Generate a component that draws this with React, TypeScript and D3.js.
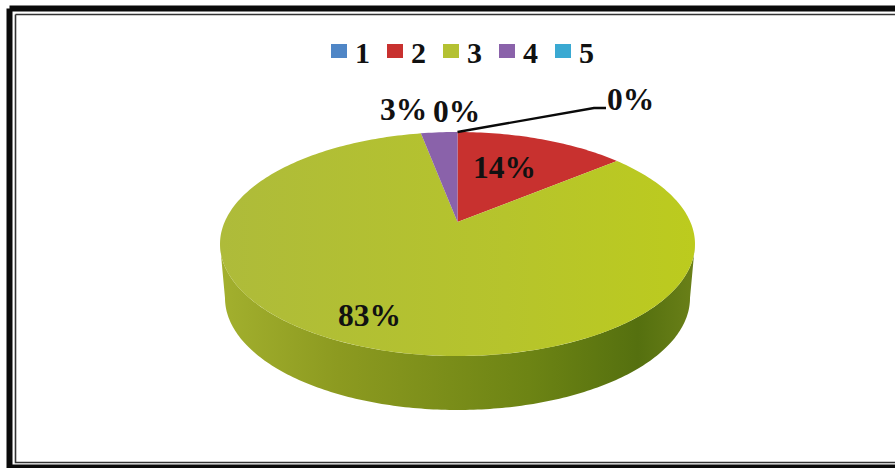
import React from "react";
import * as d3 from "d3";

const categories = ["1", "2", "3", "4", "5"];
const values = [0, 14, 83, 3, 0];
const labels = ["0%", "14%", "83%", "3%", "0%"];
const colors = ["#4f86c6", "#c8312f", "#b4c132", "#8a62aa", "#3aa9d2"];

const W = 895, H = 468;
const cx = 457.5, cy = 244, rx = 237.5, ry = 112, depth = 54;
const persp = -0.196; // perspective tilt: moves the pie's apex above the ellipse centre
const font = "'Liberation Serif', 'Times New Roman', serif";

// Project a pie angle (0 = up, clockwise) and radius fraction on the tilted disc
function project(angle: number, r = 1): [number, number] {
  const X = r * Math.sin(angle), Y = -r * Math.cos(angle);
  const w = 1 + persp * Y;
  return [cx + (rx * X * Math.sqrt(1 - persp * persp)) / w, cy + (ry * (Y + persp)) / w];
}

const pieGen = d3.pie<number>().sort(null).value((d) => d);
const arcs = pieGen(values);
const lineGen = d3.line();

function slicePath(a0: number, a1: number) {
  const steps = Math.max(2, Math.ceil((a1 - a0) / 0.02));
  const angles = d3.range(steps + 1).map((i) => a0 + ((a1 - a0) * i) / steps);
  return lineGen([project(0, 0), ...angles.map((a) => project(a))]) + "Z";
}

// Wall below the disc: lower rim is slightly narrower than the top rim
const wallSteps = d3.range(0, 181).map((i) => Math.PI / 2 + (Math.PI * i) / 180);
function wallPath() {
  const upper = wallSteps.map((a) => [cx + rx * Math.sin(a), cy - ry * Math.cos(a)] as [number, number]);
  const lower = [...wallSteps].reverse().map(
    (a) => [cx + (rx - 5) * Math.sin(a), cy + depth - ry * Math.cos(a)] as [number, number]
  );
  return lineGen([...upper, ...lower]) + "Z";
}

const legendX = d3.scalePoint<string>().domain(categories).range([331, 555]);
const labelPos: [number, number][] = [[607, 110], [473, 178], [338, 326], [380, 120], [433, 122]];

export default function App() {
  const visible = arcs.filter((a) => a.endAngle > a.startAngle);
  const leaderStart = project(arcs[0].startAngle);
  return (
    <svg
      width={W}
      height={H}
      viewBox={`0 0 ${W} ${H}`}
      style={{ position: "absolute", left: 0, top: 0, background: "#fff" }}
    >
      <defs>
        <linearGradient id="wall" x1="0" x2="1" y1="0" y2="0">
          <stop offset="0" stopColor="#a3b02e" />
          <stop offset="0.25" stopColor="#8c9a20" />
          <stop offset="0.65" stopColor="#6d8414" />
          <stop offset="0.88" stopColor="#55700f" />
          <stop offset="1" stopColor="#6a8018" />
        </linearGradient>
        <linearGradient id="top3" x1="0" x2="1" y1="0" y2="0">
          <stop offset="0" stopColor="#aebb3a" />
          <stop offset="0.6" stopColor="#b6c42c" />
          <stop offset="1" stopColor="#bccb1e" />
        </linearGradient>
      </defs>

      {/* frame */}
      <path d="M9.5,8.5H895M9.5,8.5V468" fill="none" stroke="#0a0a0a" strokeWidth={6} />
      <path d="M9.5,466.5H895" stroke="#0a0a0a" strokeWidth={4} />
      <path d="M15.5,14.5H895M15.5,14.5V462.5H895" fill="none" stroke="#333" strokeWidth={1.6} />

      {/* legend */}
      {categories.map((c, i) => (
        <g key={c}>
          <rect x={legendX(c)} y={44} width={16} height={14} fill={colors[i]} />
          <text
            x={legendX(c)! + 24}
            y={62.5}
            fontFamily={font}
            fontWeight="bold"
            fontSize={30}
            fill="#111"
          >
            {c}
          </text>
        </g>
      ))}

      {/* pie */}
      <path d={wallPath()} fill="url(#wall)" />
      {visible.map((a) => (
        <path
          key={a.index}
          d={slicePath(a.startAngle, a.endAngle)}
          fill={a.index === 2 ? "url(#top3)" : colors[a.index]}
        />
      ))}

      {/* leader for the first zero slice */}
      <path
        d={lineGen([leaderStart, [594, 108], [606, 108]]) ?? ""}
        fill="none"
        stroke="#0a0a0a"
        strokeWidth={2.4}
      />

      {/* data labels */}
      {labels.map((t, i) => (
        <text
          key={i}
          x={labelPos[i][0]}
          y={labelPos[i][1]}
          fontFamily={font}
          fontWeight="bold"
          fontSize={31.5}
          fill="#111"
        >
          {t}
        </text>
      ))}
    </svg>
  );
}
